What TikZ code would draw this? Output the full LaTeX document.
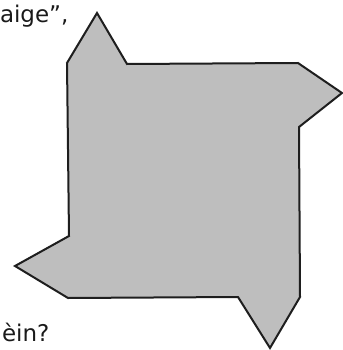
\documentclass[tikz,border=0pt]{standalone}
\usepackage{fontspec}
\setmainfont{DejaVu Sans}
\definecolor{cfill}{HTML}{BEBEBE}
\definecolor{cline}{HTML}{1E1E1E}
\definecolor{ctext}{HTML}{1A1A1A}
\tikzset{
  every picture/.style={line width=2pt},
  piece/.style={draw=cline, fill=cfill, line join=miter},
  word/.style={font=\fontsize{23}{26}\selectfont, text=ctext, inner sep=0pt, anchor=base west},
}
\begin{document}
\begin{tikzpicture}[x=1pt, y=-1pt]
  \useasboundingbox (0,0) rectangle (342,350);

  % ---- pinwheel shape
  \draw[piece] (67,63) -- (97,13) -- (127,64) -- (298,63) -- (342,93)
    -- (299,127) -- (300,297) -- (270,348) -- (238,297) -- (68,298)
    -- (15,266) -- (69,236) -- cycle;

  % ---- text cut off at the left
  \node[word] (top) at (-1,23) {aige”,};
  \node[word] (bot) at (1,341) {èin?};
\end{tikzpicture}
\end{document}
